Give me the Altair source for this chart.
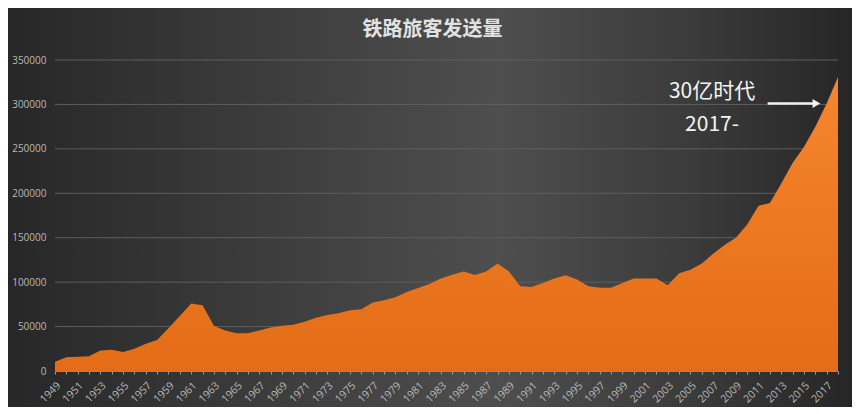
import altair as alt
import pandas as pd

years = list(range(1949, 2019))
passengers = [
    10500, 15500, 16000, 16500, 23000, 24000, 21500, 25000, 30700, 35000,
    48000, 62000, 76000, 74000, 51000, 45500, 42500, 42500, 45500, 49000,
    51000, 52000, 55500, 60000, 63000, 65000, 68500, 69500, 77000, 79500,
    83000, 89000, 93500, 98000, 104000, 108400, 112000, 108000, 112000, 121000,
    112000, 95500, 94400, 99000, 104000, 107700, 103000, 95500, 93600, 93600,
    99000, 104000, 104000, 104000, 96600, 110000, 114000, 121000, 132000, 141700,
    150000, 165000, 186000, 189000, 211000, 234000, 252000, 275000, 301000, 331000,
]
title_text = "铁路旅客发送量"
note_lines = ["30亿时代", "2017-"]
note_years = [2006.9, 2006.9]
note_values = [314000, 277000]
arrow_years = [2011.8, 2016.1]
arrow_values = [301000, 301000]
y_ticks = [0, 50000, 100000, 150000, 200000, 250000, 300000, 350000]

W, H = 783, 311

df = pd.DataFrame({"year": years, "value": passengers})
notes = pd.DataFrame({"year": note_years, "value": note_values, "text": note_lines})
arrow = pd.DataFrame({"year": [arrow_years[0]], "year2": [arrow_years[1]], "value": [arrow_values[0]]})
head = pd.DataFrame({"year": [arrow_years[1]], "value": [arrow_values[1]]})
grid = pd.DataFrame({"year": [1949] * (len(y_ticks) - 1), "year2": [2018] * (len(y_ticks) - 1),
                     "value": y_ticks[1:]})
ttl = pd.DataFrame({"text": [title_text]})

xscale = alt.Scale(domain=[1949, 2018], nice=False, zero=False)
yscale = alt.Scale(domain=[0, 350000], nice=False)

x_axis = alt.Axis(values=years, format="d",
                  labelExpr="datum.value % 2 == 1 ? datum.label : ''",
                  labelAngle=-45, labelColor="#b8b8b8", labelFontSize=10.5,
                  labelFont="Open Sans", labelPadding=6,
                  tickColor="#9a9a9a", tickSize=3, domainColor="#8a8a8a",
                  grid=False, title=None, labelOverlap=False, zindex=1)
y_axis = alt.Axis(values=y_ticks, format="d", labelColor="#b8b8b8",
                  labelFontSize=10, labelFont="Open Sans", labelPadding=9,
                  grid=False, domain=False, ticks=False, labelOverlap=False,
                  title=None, zindex=1)

X = alt.X("year:Q", scale=xscale, axis=x_axis)
Y = alt.Y("value:Q", scale=yscale, axis=y_axis)

bg = alt.Chart(pd.DataFrame({"a": [0]})).mark_rect(
    clip=False,
    color=alt.Gradient(
        gradient="linear", x1=0, x2=1, y1=0, y2=0,
        stops=[
            alt.GradientStop(color="#272727", offset=0),
            alt.GradientStop(color="#3c3c3c", offset=0.3),
            alt.GradientStop(color="#4e4e4e", offset=0.58),
            alt.GradientStop(color="#3a3a3a", offset=0.82),
            alt.GradientStop(color="#262626", offset=1),
        ],
    ),
).encode(
    x=alt.value(-47), x2=alt.value(W + 14),
    y=alt.value(-52), y2=alt.value(H + 36),
)

grid_rules = alt.Chart(grid).mark_rule(color="#5e5e5e", strokeWidth=1).encode(
    x=X, x2="year2:Q", y=Y,
)

area = alt.Chart(df).mark_area(
    color=alt.Gradient(
        gradient="linear", x1=0, x2=0, y1=0, y2=1,
        stops=[
            alt.GradientStop(color="#f5862e", offset=0),
            alt.GradientStop(color="#e46c16", offset=1),
        ],
    ),
    interpolate="linear",
).encode(x=X, y=Y)

text = alt.Chart(notes).mark_text(
    color="#f4f4f4", fontSize=21, font="Noto Sans CJK SC", align="center", baseline="middle"
).encode(x=X, y=Y, text="text:N")

rule = alt.Chart(arrow).mark_rule(color="#f2f2f2", strokeWidth=2.5).encode(
    x=X, x2="year2:Q", y=Y
)
tip = alt.Chart(head).mark_point(
    shape="triangle-right", filled=True, color="#f2f2f2", size=80, opacity=1
).encode(x=X, y=Y)

title_mark = alt.Chart(ttl).mark_text(
    color="#e2e2e2", fontSize=20, font="Noto Sans CJK SC", fontWeight="bold",
    align="center", baseline="middle", clip=False,
).encode(text="text:N", x=alt.value(W / 2 - 14), y=alt.value(-30))

chart = alt.layer(bg, grid_rules, area, text, rule, tip, title_mark).properties(
    width=W, height=H,
    autosize=alt.AutoSizeParams(type="none"),
    padding={"left": 47, "top": 52, "right": 14, "bottom": 36},
    background="#333333",
).configure_view(stroke=None)

chart.save("out.html", embed_options={"renderer": "svg", "actions": False})
